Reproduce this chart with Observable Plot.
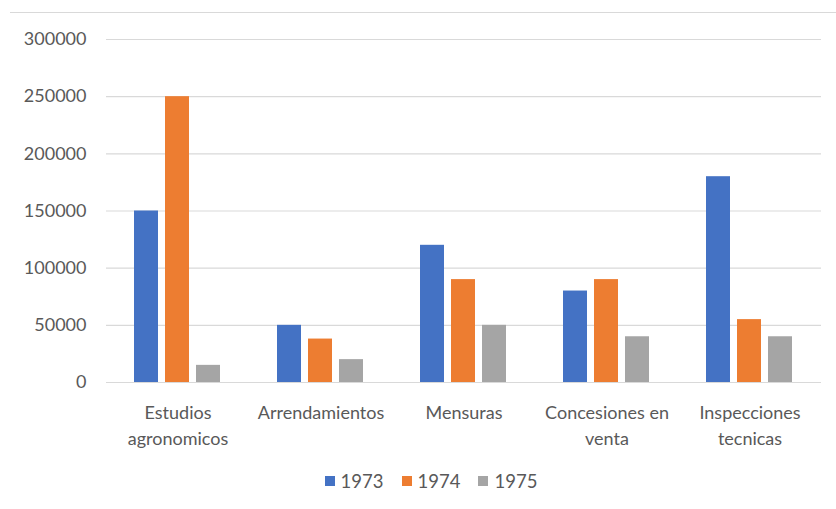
<!DOCTYPE html>
<html>
<head>
<meta charset="utf-8">
<script src="https://cdn.jsdelivr.net/npm/d3@7"></script>
<script src="https://cdn.jsdelivr.net/npm/@observablehq/plot@0.6"></script>
<style>
  body { margin: 0; background: #fff; font-family: Lato, "Liberation Sans", sans-serif; }
  #wrap { position: relative; width: 836px; height: 509px; }
  #border { position: absolute; top: 12px; left: 10px; right: 0; border-top: 1px solid #d9d9d9; }
  #legend { height: 49px; display: flex; justify-content: center; align-items: center; gap: 18px; padding-left: 26px; box-sizing: border-box; font-size: 18.5px; color: #595959; margin-top: -4px; }
  #legend .item { display: flex; align-items: center; gap: 6px; }
  #legend .sw { width: 10px; height: 10px; display: inline-block; }
</style>
</head>
<body>
<div id="wrap">
  <div id="border"></div>
  <div id="chart"></div>
  <div id="legend"></div>
</div>
<script>
const categories = ["Estudios agronomicos", "Arrendamientos", "Mensuras", "Concesiones en venta", "Inspecciones tecnicas"];
const categoryLabels = ["Estudios\nagronomicos", "Arrendamientos", "Mensuras", "Concesiones en\nventa", "Inspecciones\ntecnicas"];
const years = ["1973", "1974", "1975"];
const v1973 = [150000, 50000, 120000, 80000, 180000];
const v1974 = [250000, 38000, 90000, 90000, 55000];
const v1975 = [15000, 20000, 50000, 40000, 40000];
const yTicks = [0, 50000, 100000, 150000, 200000, 250000, 300000];
const colors = ["#4472C4", "#ED7D31", "#A5A5A5"];

const series = [v1973, v1974, v1975];
const data = [];
categories.forEach((c, i) => {
  years.forEach((y, j) => data.push({category: c, year: y, value: series[j][i]}));
});

const chart = Plot.plot({
  width: 836,
  height: 460,
  marginTop: 39,
  marginBottom: 78,
  marginLeft: 106,
  marginRight: 15,
  style: {fontFamily: "Lato, 'Liberation Sans', sans-serif", fontSize: "18px", color: "#595959", background: "#fff"},
  fx: {domain: categories, padding: 0, label: null},
  x: {domain: years, paddingInner: 0.21, paddingOuter: 0.86, axis: null},
  y: {domain: [0, 300000], label: null},
  color: {domain: years, range: colors},
  marks: [
    Plot.ruleY(yTicks, {stroke: "#d9d9d9", strokeWidth: 1.2}),
    Plot.barY(data, {fx: "category", x: "year", y: "value", fill: "year"}),
    Plot.axisY({ticks: yTicks, tickSize: 0, tickPadding: 20, tickFormat: d3.format("d"), fill: "#595959", label: null}),
    Plot.axisFx({anchor: "bottom", tickSize: 0, tickPadding: 19, lineHeight: 1.4, fill: "#595959", label: null,
      tickFormat: d => categoryLabels[categories.indexOf(d)]})
  ]
});
document.getElementById("chart").appendChild(chart);

const legend = document.getElementById("legend");
years.forEach((y, j) => {
  const item = document.createElement("span");
  item.className = "item";
  const sw = document.createElement("span");
  sw.className = "sw";
  sw.style.background = colors[j];
  item.appendChild(sw);
  item.appendChild(document.createTextNode(y));
  legend.appendChild(item);
});
</script>
</body>
</html>
